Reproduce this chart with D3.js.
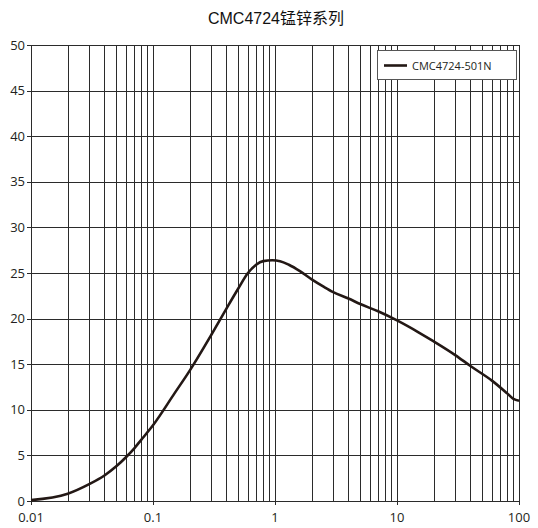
<!DOCTYPE html>
<html>
<head>
<meta charset="utf-8">
<script src="https://cdn.jsdelivr.net/npm/d3@7"></script>
<style>
  body { margin: 0; background: #fff; }
  svg { display: block; }
</style>
</head>
<body>
<svg id="chart" width="538" height="528"></svg>
<script>
// frequency (MHz) and impedance readings
const freqs = [0.01, 0.02, 0.03, 0.04, 0.05, 0.06, 0.07, 0.08, 0.1, 0.15, 0.2, 0.3, 0.4, 0.5, 0.6, 0.7, 0.8, 0.95, 1.1, 1.3, 1.6, 2, 2.5, 3, 4, 5, 7, 10, 15, 20, 30, 40, 60, 80, 90, 100];
const values = [0.1, 0.8, 1.85, 2.8, 3.8, 4.8, 5.75, 6.7, 8.3, 11.8, 14.3, 18.2, 21.1, 23.3, 25.0, 25.9, 26.3, 26.4, 26.3, 25.9, 25.2, 24.3, 23.5, 22.9, 22.2, 21.6, 20.8, 19.8, 18.5, 17.5, 16.0, 14.8, 13.2, 11.8, 11.2, 11.0];
const xTickLabels = [0.01, 0.1, 1, 10, 100];
const yTicks = [0, 5, 10, 15, 20, 25, 30, 35, 40, 45, 50];
const title = "CMC4724锰锌系列";
const seriesName = "CMC4724-501N";

const svg = d3.select("#chart");
const plotLeft = 31, plotRight = 519, plotTop = 45, plotBottom = 501;

const x = d3.scaleLog().domain([0.01, 100]).range([plotLeft, plotRight]);
const y = d3.scaleLinear().domain([0, 50]).range([plotBottom, plotTop]);

const gridColor = "#2b2b2b";
const labelFont = "'Open Sans', 'DejaVu Sans', sans-serif";

// vertical grid: 1..9 per decade
const vLines = [];
for (let d = -2; d < 2; d++) {
    for (let m = 1; m < 10; m++) vLines.push(m * Math.pow(10, d));
}
vLines.push(100);

svg.append("g")
    .selectAll("line")
    .data(vLines)
    .enter()
    .append("line")
    .attr("x1", d => Math.round(x(d)) + 0.5)
    .attr("x2", d => Math.round(x(d)) + 0.5)
    .attr("y1", plotTop)
    .attr("y2", plotBottom)
    .style("stroke", gridColor)
    .style("stroke-width", 1);

svg.append("g")
    .selectAll("line")
    .data(yTicks)
    .enter()
    .append("line")
    .attr("x1", plotLeft - 4)
    .attr("x2", plotRight)
    .attr("y1", d => Math.round(y(d)) + 0.5)
    .attr("y2", d => Math.round(y(d)) + 0.5)
    .style("stroke", gridColor)
    .style("stroke-width", 1);

// y labels
svg.append("g")
    .selectAll("text")
    .data(yTicks)
    .enter()
    .append("text")
    .attr("x", plotLeft - 6)
    .attr("y", d => y(d) + 4.5)
    .attr("text-anchor", "end")
    .style("font-family", labelFont)
    .style("font-size", "13px")
    .style("fill", "#231f20")
    .text(d => d);

// x ticks + labels
svg.append("g")
    .selectAll("line")
    .data(xTickLabels)
    .enter()
    .append("line")
    .attr("x1", d => Math.round(x(d)) + 0.5)
    .attr("x2", d => Math.round(x(d)) + 0.5)
    .attr("y1", plotBottom)
    .attr("y2", plotBottom + 4)
    .style("stroke", gridColor);

svg.append("g")
    .selectAll("text")
    .data(xTickLabels)
    .enter()
    .append("text")
    .attr("x", d => x(d))
    .attr("y", plotBottom + 21)
    .attr("text-anchor", "middle")
    .style("font-family", labelFont)
    .style("font-size", "13px")
    .style("fill", "#231f20")
    .text(d => d);

// the curve
const line = d3.line()
    .x((d, i) => x(freqs[i]))
    .y(d => y(d))
    .curve(d3.curveMonotoneX);

svg.append("path")
    .datum(values)
    .attr("d", line)
    .style("fill", "none")
    .style("stroke", "#231815")
    .style("stroke-width", 2.6);

// legend
const lg = svg.append("g");
lg.append("rect")
    .attr("x", 377.5)
    .attr("y", 50.5)
    .attr("width", 139)
    .attr("height", 29)
    .style("fill", "#fff")
    .style("stroke", "#555")
    .style("stroke-width", 1);
lg.append("line")
    .attr("x1", 384)
    .attr("x2", 407)
    .attr("y1", 65.5)
    .attr("y2", 65.5)
    .style("stroke", "#231815")
    .style("stroke-width", 2.6);
lg.append("text")
    .attr("x", 412)
    .attr("y", 69.5)
    .style("font-family", labelFont)
    .style("font-size", "11px")
    .style("fill", "#231f20")
    .text(seriesName);

// title
svg.append("text")
    .attr("x", 276)
    .attr("y", 24)
    .attr("text-anchor", "middle")
    .style("font-family", "'Liberation Sans', 'Noto Sans CJK SC', sans-serif")
    .style("font-size", "16px")
    .style("fill", "#111")
    .text(title);
</script>
</body>
</html>
